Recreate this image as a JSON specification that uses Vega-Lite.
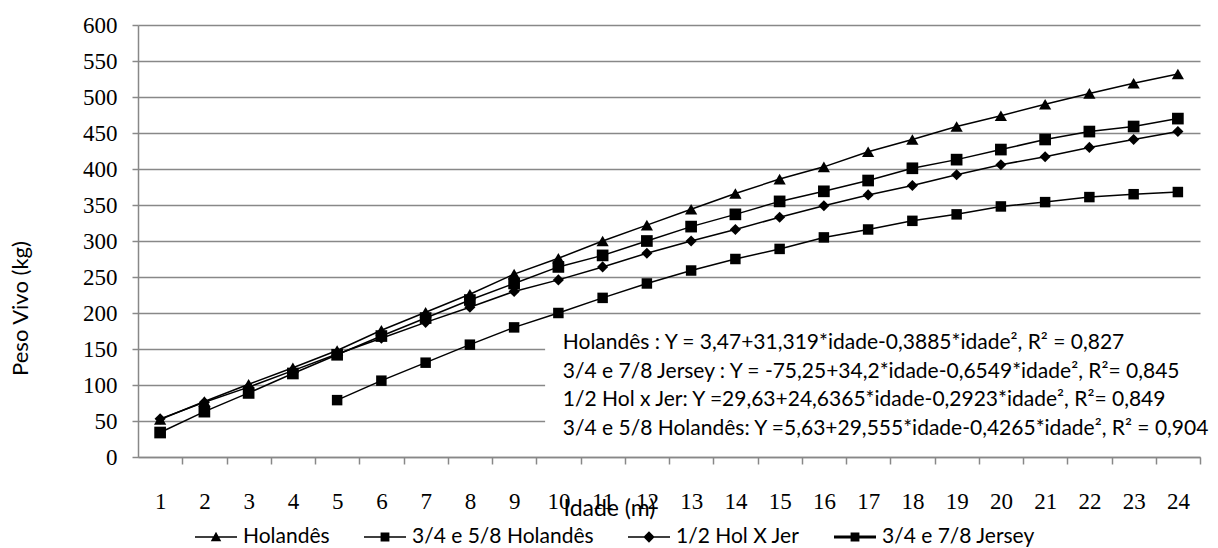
{
  "$schema": "https://vega.github.io/schema/vega-lite/v6.json",
  "width": 1062,
  "height": 432,
  "autosize": {"type": "none"},
  "padding": {"left": 138, "top": 25, "right": 18, "bottom": 91},
  "background": "white",
  "config": {"view": {"stroke": null}, "font": "Lato"},
  "datasets": {
    "peso": [
      {"idade": 1, "serie": "Holandês", "peso": 52},
      {"idade": 2, "serie": "Holandês", "peso": 77},
      {"idade": 3, "serie": "Holandês", "peso": 101},
      {"idade": 4, "serie": "Holandês", "peso": 124},
      {"idade": 5, "serie": "Holandês", "peso": 148},
      {"idade": 6, "serie": "Holandês", "peso": 176},
      {"idade": 7, "serie": "Holandês", "peso": 201},
      {"idade": 8, "serie": "Holandês", "peso": 226},
      {"idade": 9, "serie": "Holandês", "peso": 254},
      {"idade": 10, "serie": "Holandês", "peso": 276},
      {"idade": 11, "serie": "Holandês", "peso": 300},
      {"idade": 12, "serie": "Holandês", "peso": 322},
      {"idade": 13, "serie": "Holandês", "peso": 344},
      {"idade": 14, "serie": "Holandês", "peso": 366},
      {"idade": 15, "serie": "Holandês", "peso": 386},
      {"idade": 16, "serie": "Holandês", "peso": 403},
      {"idade": 17, "serie": "Holandês", "peso": 424},
      {"idade": 18, "serie": "Holandês", "peso": 441},
      {"idade": 19, "serie": "Holandês", "peso": 459},
      {"idade": 20, "serie": "Holandês", "peso": 474},
      {"idade": 21, "serie": "Holandês", "peso": 490},
      {"idade": 22, "serie": "Holandês", "peso": 505},
      {"idade": 23, "serie": "Holandês", "peso": 519},
      {"idade": 24, "serie": "Holandês", "peso": 532},
      {"idade": 1, "serie": "3/4 e 5/8 Holandês", "peso": 34},
      {"idade": 2, "serie": "3/4 e 5/8 Holandês", "peso": 63},
      {"idade": 3, "serie": "3/4 e 5/8 Holandês", "peso": 89},
      {"idade": 4, "serie": "3/4 e 5/8 Holandês", "peso": 116},
      {"idade": 5, "serie": "3/4 e 5/8 Holandês", "peso": 142},
      {"idade": 6, "serie": "3/4 e 5/8 Holandês", "peso": 168},
      {"idade": 7, "serie": "3/4 e 5/8 Holandês", "peso": 193},
      {"idade": 8, "serie": "3/4 e 5/8 Holandês", "peso": 218},
      {"idade": 9, "serie": "3/4 e 5/8 Holandês", "peso": 241},
      {"idade": 10, "serie": "3/4 e 5/8 Holandês", "peso": 264},
      {"idade": 11, "serie": "3/4 e 5/8 Holandês", "peso": 280},
      {"idade": 12, "serie": "3/4 e 5/8 Holandês", "peso": 300},
      {"idade": 13, "serie": "3/4 e 5/8 Holandês", "peso": 320},
      {"idade": 14, "serie": "3/4 e 5/8 Holandês", "peso": 337},
      {"idade": 15, "serie": "3/4 e 5/8 Holandês", "peso": 355},
      {"idade": 16, "serie": "3/4 e 5/8 Holandês", "peso": 369},
      {"idade": 17, "serie": "3/4 e 5/8 Holandês", "peso": 384},
      {"idade": 18, "serie": "3/4 e 5/8 Holandês", "peso": 401},
      {"idade": 19, "serie": "3/4 e 5/8 Holandês", "peso": 413},
      {"idade": 20, "serie": "3/4 e 5/8 Holandês", "peso": 427},
      {"idade": 21, "serie": "3/4 e 5/8 Holandês", "peso": 441},
      {"idade": 22, "serie": "3/4 e 5/8 Holandês", "peso": 452},
      {"idade": 23, "serie": "3/4 e 5/8 Holandês", "peso": 459},
      {"idade": 24, "serie": "3/4 e 5/8 Holandês", "peso": 470},
      {"idade": 1, "serie": "1/2 Hol X Jer", "peso": 53},
      {"idade": 2, "serie": "1/2 Hol X Jer", "peso": 76},
      {"idade": 3, "serie": "1/2 Hol X Jer", "peso": 97},
      {"idade": 4, "serie": "1/2 Hol X Jer", "peso": 120},
      {"idade": 5, "serie": "1/2 Hol X Jer", "peso": 143},
      {"idade": 6, "serie": "1/2 Hol X Jer", "peso": 165},
      {"idade": 7, "serie": "1/2 Hol X Jer", "peso": 187},
      {"idade": 8, "serie": "1/2 Hol X Jer", "peso": 208},
      {"idade": 9, "serie": "1/2 Hol X Jer", "peso": 230},
      {"idade": 10, "serie": "1/2 Hol X Jer", "peso": 246},
      {"idade": 11, "serie": "1/2 Hol X Jer", "peso": 264},
      {"idade": 12, "serie": "1/2 Hol X Jer", "peso": 283},
      {"idade": 13, "serie": "1/2 Hol X Jer", "peso": 300},
      {"idade": 14, "serie": "1/2 Hol X Jer", "peso": 316},
      {"idade": 15, "serie": "1/2 Hol X Jer", "peso": 333},
      {"idade": 16, "serie": "1/2 Hol X Jer", "peso": 349},
      {"idade": 17, "serie": "1/2 Hol X Jer", "peso": 364},
      {"idade": 18, "serie": "1/2 Hol X Jer", "peso": 377},
      {"idade": 19, "serie": "1/2 Hol X Jer", "peso": 392},
      {"idade": 20, "serie": "1/2 Hol X Jer", "peso": 406},
      {"idade": 21, "serie": "1/2 Hol X Jer", "peso": 417},
      {"idade": 22, "serie": "1/2 Hol X Jer", "peso": 430},
      {"idade": 23, "serie": "1/2 Hol X Jer", "peso": 441},
      {"idade": 24, "serie": "1/2 Hol X Jer", "peso": 452},
      {"idade": 5, "serie": "3/4  e 7/8 Jersey", "peso": 79},
      {"idade": 6, "serie": "3/4  e 7/8 Jersey", "peso": 106},
      {"idade": 7, "serie": "3/4  e 7/8 Jersey", "peso": 131},
      {"idade": 8, "serie": "3/4  e 7/8 Jersey", "peso": 156},
      {"idade": 9, "serie": "3/4  e 7/8 Jersey", "peso": 180},
      {"idade": 10, "serie": "3/4  e 7/8 Jersey", "peso": 200},
      {"idade": 11, "serie": "3/4  e 7/8 Jersey", "peso": 221},
      {"idade": 12, "serie": "3/4  e 7/8 Jersey", "peso": 241},
      {"idade": 13, "serie": "3/4  e 7/8 Jersey", "peso": 259},
      {"idade": 14, "serie": "3/4  e 7/8 Jersey", "peso": 275},
      {"idade": 15, "serie": "3/4  e 7/8 Jersey", "peso": 289},
      {"idade": 16, "serie": "3/4  e 7/8 Jersey", "peso": 305},
      {"idade": 17, "serie": "3/4  e 7/8 Jersey", "peso": 316},
      {"idade": 18, "serie": "3/4  e 7/8 Jersey", "peso": 328},
      {"idade": 19, "serie": "3/4  e 7/8 Jersey", "peso": 337},
      {"idade": 20, "serie": "3/4  e 7/8 Jersey", "peso": 348},
      {"idade": 21, "serie": "3/4  e 7/8 Jersey", "peso": 354},
      {"idade": 22, "serie": "3/4  e 7/8 Jersey", "peso": 361},
      {"idade": 23, "serie": "3/4  e 7/8 Jersey", "peso": 365},
      {"idade": 24, "serie": "3/4  e 7/8 Jersey", "peso": 368}
    ]
  },
  "layer": [
    {
      "data": {"name": "peso"},
      "mark": {"type": "line", "color": "black"},
      "encoding": {
        "x": {
          "field": "idade",
          "type": "quantitative",
          "scale": {"domain": [0.5, 24.5], "nice": false, "zero": false},
          "axis": {
            "title": "Idade (m)",
            "values": [1, 2, 3, 4, 5, 6, 7, 8, 9, 10, 11, 12, 13, 14, 15, 16, 17, 18, 19, 20, 21, 22, 23, 24],
            "tickCount": 40,
            "format": "d",
            "tickOffset": 22.125,
            "labelOffset": -22.125,
            "labelOverlap": false,
            "labelFlush": false,
            "grid": false,
            "domainColor": "#888888",
            "domainWidth": 1.5,
            "tickColor": "#888888",
            "tickWidth": 1.5,
            "tickSize": 7,
            "labelFont": "Liberation Serif",
            "labelFontSize": 23,
            "labelColor": "black",
            "labelPadding": 26,
            "titleFont": "Lato",
            "titleFontSize": 23,
            "titleFontWeight": "normal",
            "titleColor": "black",
            "titleX": 471,
            "titleY": 51,
            "titleBaseline": "middle"
          }
        },
        "y": {
          "field": "peso",
          "type": "quantitative",
          "scale": {"domain": [0, 600], "nice": false},
          "axis": {
            "title": "Peso Vivo (kg)",
            "values": [0, 50, 100, 150, 200, 250, 300, 350, 400, 450, 500, 550, 600],
            "tickCount": 20,
            "format": "d",
            "labelOverlap": false,
            "grid": true,
            "gridColor": "#888888",
            "gridWidth": 1.3,
            "domainColor": "#888888",
            "domainWidth": 1.5,
            "tickColor": "#888888",
            "tickWidth": 1.5,
            "tickSize": 6,
            "labelFont": "Liberation Serif",
            "labelFontSize": 23,
            "labelColor": "black",
            "labelPadding": 15,
            "titleFont": "Lato",
            "titleFontSize": 22,
            "titleFontWeight": "normal",
            "titleColor": "black",
            "titleX": -118,
            "titleY": 283,
            "titleBaseline": "middle"
          }
        },
        "detail": {"field": "serie", "type": "nominal"},
        "strokeWidth": {
          "field": "serie",
          "type": "nominal",
          "scale": {"domain": ["Holandês", "3/4 e 5/8 Holandês", "1/2 Hol X Jer", "3/4  e 7/8 Jersey"], "range": [1.5, 1.5, 1.5, 3.2]},
          "legend": null
        }
      }
    },
    {
      "data": {"name": "peso"},
      "mark": {"type": "point", "filled": true, "color": "black", "opacity": 1},
      "encoding": {
        "x": {"field": "idade", "type": "quantitative"},
        "y": {"field": "peso", "type": "quantitative"},
        "shape": {
          "field": "serie",
          "type": "nominal",
          "scale": {"domain": ["Holandês", "3/4 e 5/8 Holandês", "1/2 Hol X Jer", "3/4  e 7/8 Jersey"], "range": ["triangle-up", "square", "diamond", "square"]},
          "legend": null
        },
        "size": {
          "field": "serie",
          "type": "nominal",
          "scale": {"domain": ["Holandês", "3/4 e 5/8 Holandês", "1/2 Hol X Jer", "3/4  e 7/8 Jersey"], "range": [150, 110, 165, 110]},
          "legend": null
        }
      }
    },
    {
      "data": {"values": [{}]},
      "mark": {"type": "rect", "fill": "white", "stroke": null},
      "encoding": {
        "x": {"datum": 9.7, "type": "quantitative"},
        "x2": {"datum": 24.6},
        "y": {"datum": 180, "type": "quantitative"},
        "y2": {"datum": 15}
      }
    },
    {
      "data": {"name": "peso"},
      "transform": [{"filter": "datum.idade < 0"}],
      "mark": {"type": "point", "filled": true, "color": "black", "opacity": 1},
      "encoding": {
        "x": {"field": "idade", "type": "quantitative"},
        "y": {"field": "peso", "type": "quantitative"},
        "shape": {
          "field": "serie",
          "type": "nominal",
          "scale": {
            "domain": ["Holandês", "3/4 e 5/8 Holandês", "1/2 Hol X Jer", "3/4  e 7/8 Jersey"],
            "range": [
              "M-1,-0.036H1V0.036H-1Z M0,-0.25L0.25,0.2L-0.25,0.2Z",
              "M-1,-0.036H1V0.036H-1Z M-0.21,-0.21H0.21V0.21H-0.21Z",
              "M-1,-0.036H1V0.036H-1Z M0,-0.27L0.27,0L0,0.27L-0.27,0Z",
              "M-1,-0.075H1V0.075H-1Z M-0.21,-0.21H0.21V0.21H-0.21Z"
            ]
          },
          "legend": {
            "title": null,
            "orient": "none",
            "direction": "horizontal",
            "legendX": 57,
            "legendY": 491,
            "symbolSize": 1764,
            "symbolStrokeWidth": 0,
            "symbolFillColor": "black",
            "symbolOpacity": 1,
            "labelFont": "Lato",
            "labelFontSize": 21,
            "labelColor": "black",
            "labelOffset": 6,
            "columnPadding": 34,
            "labelLimit": 400,
            "padding": 0
          }
        }
      }
    },
    {
      "data": {"values": [{}]},
      "mark": {
        "type": "text",
        "align": "left",
        "baseline": "alphabetic",
        "font": "Lato",
        "fontSize": 21,
        "color": "black",
        "lineHeight": 28.5,
        "text": [
          "Holandês : Y = 3,47+31,319*idade-0,3885*idade², R² = 0,827",
          "3/4 e 7/8 Jersey : Y = -75,25+34,2*idade-0,6549*idade², R²= 0,845",
          "1/2 Hol x Jer: Y  =29,63+24,6365*idade-0,2923*idade², R²= 0,849",
          "3/4 e 5/8 Holandês: Y  =5,63+29,555*idade-0,4265*idade², R² = 0,904"
        ]
      },
      "encoding": {
        "x": {"datum": 10.1, "type": "quantitative"},
        "y": {"datum": 150, "type": "quantitative"}
      }
    }
  ],
  "resolve": {"scale": {"shape": "independent"}}
}
